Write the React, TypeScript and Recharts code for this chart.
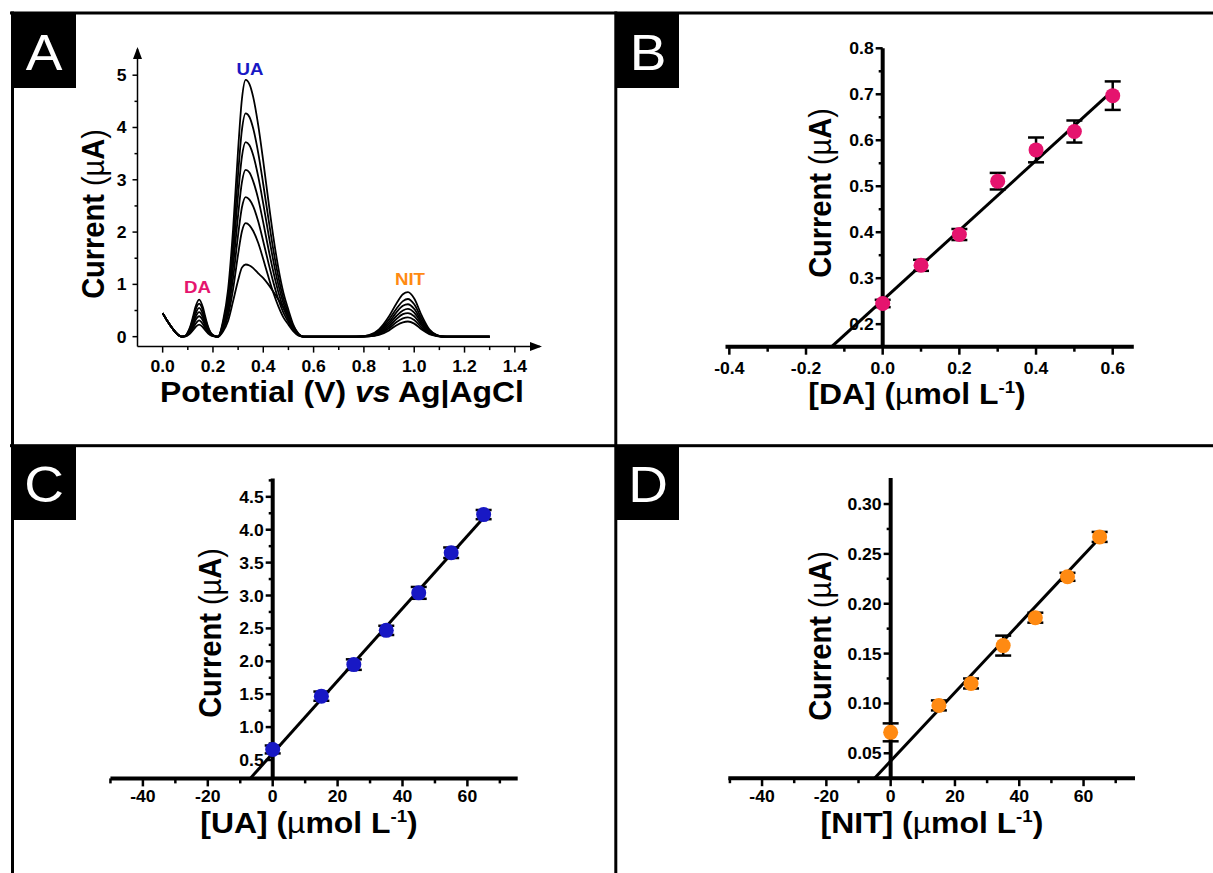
import React from 'react';
import {
  LineChart, Line, XAxis, YAxis, ReferenceDot, ReferenceLine,
  ComposedChart, Scatter, ErrorBar,
} from 'recharts';

const FONT = '"Liberation Sans", Arial, Helvetica, sans-serif';
const SX = 1.1;

// ---------------- Panel A data (DPV curves) ----------------
const startX = [0, 0.02, 0.04, 0.06, 0.075];
const startY = [0.45, 0.29, 0.15, 0.04, 0.0];
const daX = [0.09, 0.10, 0.11, 0.12, 0.13, 0.145, 0.16, 0.17, 0.18, 0.19, 0.20, 0.21];
const daCurves = [
  [0.005, 0.028, 0.064, 0.12, 0.18, 0.23, 0.18, 0.12, 0.064, 0.028, 0.010, 0.002],
  [0.006, 0.037, 0.087, 0.16, 0.24, 0.31, 0.24, 0.16, 0.087, 0.037, 0.014, 0.003],
  [0.008, 0.047, 0.11, 0.20, 0.31, 0.39, 0.31, 0.20, 0.11, 0.047, 0.018, 0.004],
  [0.009, 0.056, 0.13, 0.24, 0.37, 0.47, 0.37, 0.24, 0.13, 0.056, 0.021, 0.005],
  [0.011, 0.066, 0.15, 0.29, 0.43, 0.55, 0.43, 0.29, 0.15, 0.066, 0.025, 0.006],
  [0.013, 0.076, 0.18, 0.33, 0.50, 0.63, 0.50, 0.33, 0.18, 0.076, 0.028, 0.006],
  [0.014, 0.085, 0.20, 0.37, 0.56, 0.71, 0.56, 0.37, 0.20, 0.085, 0.032, 0.007],
];
const uaX = [0.22, 0.24, 0.26, 0.28, 0.30, 0.315, 0.33, 0.345, 0.36, 0.38, 0.40, 0.42, 0.44, 0.46, 0.48, 0.50, 0.52, 0.54, 0.56];
const uaCurves = [
  [0, 0.10, 0.30, 0.68, 1.08, 1.32, 1.38, 1.36, 1.31, 1.21, 1.12, 1.00, 0.86, 0.71, 0.55, 0.38, 0.20, 0.06, 0],
  [0, 0.13, 0.40, 0.91, 1.58, 2.01, 2.17, 2.13, 2.02, 1.79, 1.48, 1.15, 0.84, 0.58, 0.37, 0.23, 0.10, 0.02, 0],
  [0, 0.16, 0.49, 1.12, 1.95, 2.47, 2.67, 2.62, 2.49, 2.20, 1.82, 1.42, 1.04, 0.71, 0.46, 0.28, 0.12, 0.03, 0],
  [0, 0.19, 0.58, 1.34, 2.33, 2.95, 3.19, 3.14, 2.97, 2.63, 2.18, 1.69, 1.24, 0.85, 0.55, 0.33, 0.14, 0.03, 0],
  [0, 0.23, 0.68, 1.56, 2.72, 3.44, 3.72, 3.66, 3.47, 3.06, 2.54, 1.98, 1.45, 0.99, 0.64, 0.39, 0.17, 0.04, 0],
  [0, 0.26, 0.78, 1.79, 3.12, 3.95, 4.27, 4.20, 3.98, 3.51, 2.91, 2.27, 1.66, 1.14, 0.73, 0.44, 0.19, 0.04, 0],
  [0, 0.30, 0.90, 2.06, 3.58, 4.54, 4.91, 4.83, 4.58, 4.04, 3.35, 2.61, 1.91, 1.31, 0.84, 0.51, 0.22, 0.05, 0],
];
const flatX = [0.6, 0.7];
const flatY = [0, 0];
const nitX = [0.78, 0.82, 0.86, 0.90, 0.93, 0.955, 0.975, 1.0, 1.03, 1.06, 1.09, 1.11, 1.13];
const nitCurves = [
  [0, 0.005, 0.035, 0.12, 0.22, 0.275, 0.29, 0.25, 0.135, 0.05, 0.012, 0.001, 0],
  [0, 0.008, 0.05, 0.16, 0.28, 0.35, 0.37, 0.32, 0.17, 0.06, 0.015, 0.002, 0],
  [0.001, 0.012, 0.065, 0.20, 0.34, 0.43, 0.45, 0.39, 0.21, 0.075, 0.018, 0.002, 0],
  [0.001, 0.015, 0.08, 0.24, 0.40, 0.50, 0.53, 0.46, 0.25, 0.09, 0.02, 0.003, 0],
  [0.002, 0.02, 0.095, 0.28, 0.47, 0.59, 0.62, 0.53, 0.29, 0.10, 0.025, 0.003, 0],
  [0.003, 0.025, 0.115, 0.33, 0.54, 0.68, 0.72, 0.62, 0.34, 0.12, 0.03, 0.004, 0],
  [0.004, 0.03, 0.14, 0.39, 0.64, 0.81, 0.85, 0.73, 0.40, 0.14, 0.03, 0.004, 0],
];
const endX = [1.2, 1.3];
const endY = [0, 0];

const aXMajor = [0, 0.2, 0.4, 0.6, 0.8, 1.0, 1.2, 1.4];
const aXLabels = ['0.0', '0.2', '0.4', '0.6', '0.8', '1.0', '1.2', '1.4'];
const aXMinor = [0.1, 0.3, 0.5, 0.7, 0.9, 1.1, 1.3];
const aYMajor = [0, 1, 2, 3, 4, 5];
const aYLabels = ['0', '1', '2', '3', '4', '5'];
const aYMinor = [0.5, 1.5, 2.5, 3.5, 4.5];

// ---------------- Panel B (DA) ----------------
const daConc = [0, 0.1, 0.2, 0.3, 0.4, 0.5, 0.6];
const daCurr = [0.245, 0.328, 0.395, 0.511, 0.579, 0.619, 0.697];
const daErr = [0.008, 0.012, 0.012, 0.018, 0.027, 0.024, 0.031];
const daFitX = [-0.133, 0.6];
const daFitY = [0.151, 0.708];
const bXMajor = [-0.4, -0.2, 0, 0.2, 0.4, 0.6];
const bXLabels = ['-0.4', '-0.2', '0.0', '0.2', '0.4', '0.6'];
const bXMinor = [-0.3, -0.1, 0.1, 0.3, 0.5];
const bYMajor = [0.2, 0.3, 0.4, 0.5, 0.6, 0.7, 0.8];
const bYLabels = ['0.2', '0.3', '0.4', '0.5', '0.6', '0.7', '0.8'];
const bYMinor = [0.25, 0.35, 0.45, 0.55, 0.65, 0.75];

// ---------------- Panel C (UA) ----------------
const uaConc = [0, 15, 25, 35, 45, 55, 65];
const uaCurr = [0.66, 1.47, 1.95, 2.47, 3.04, 3.65, 4.23];
const uaErr = [0.06, 0.07, 0.08, 0.07, 0.09, 0.08, 0.07];
const uaFitX = [-6.9, 65];
const uaFitY = [0.22, 4.18];
const cYMajor = [0.5, 1.0, 1.5, 2.0, 2.5, 3.0, 3.5, 4.0, 4.5];
const cYLabels = ['0.5', '1.0', '1.5', '2.0', '2.5', '3.0', '3.5', '4.0', '4.5'];
const cYMinor = [0.75, 1.25, 1.75, 2.25, 2.75, 3.25, 3.75, 4.25, 4.75];

// ---------------- Panel D (NIT) ----------------
const nitConc = [0, 15, 25, 35, 45, 55, 65];
const nitCurr = [0.071, 0.098, 0.120, 0.158, 0.186, 0.227, 0.267];
const nitErr = [0.009, 0.005, 0.005, 0.010, 0.005, 0.004, 0.005];
const nitFitX = [-5, 65];
const nitFitY = [0.025, 0.266];
const dYMajor = [0.05, 0.10, 0.15, 0.20, 0.25, 0.30];
const dYLabels = ['0.05', '0.10', '0.15', '0.20', '0.25', '0.30'];
const dYMinor = [0.075, 0.125, 0.175, 0.225, 0.275];

const cdXMajor = [-40, -20, 0, 20, 40, 60];
const cdXLabels = ['-40', '-20', '0', '20', '40', '60'];
const cdXMinor = [-50, -30, -10, 10, 30, 50, 70];

const COL_DA = '#E5146E';
const COL_UA = '#1818C4';
const COL_NIT = '#FF8A12';

// ---------------- build tables ----------------
const allX = [...startX, ...daX, ...uaX, ...flatX, ...nitX, ...endX];
const curveKeys = daCurves.map((_, i) => `c${i}`);
const curveVals = daCurves.map((_, i) => [
  ...startY, ...daCurves[i], ...uaCurves[i], ...flatY, ...nitCurves[i], ...endY,
]);
const dpvRows = allX.map((v, j) => {
  const row: any = { v };
  curveKeys.forEach((k, i) => { row[k] = curveVals[i][j]; });
  return row;
});

const pts = (xs: number[], ys: number[], es?: number[]) =>
  xs.map((x, i) => ({ x, y: ys[i], e: es ? es[i] : 0 }));

// ---------------- helpers ----------------
function Txt(props: any) {
  const { x, y, size, weight = 'bold', anchor = 'middle', fill = '#000', rotate = false, children } = props;
  const t = `translate(${x},${y}) scale(${SX},1)` + (rotate ? ' rotate(-90)' : '');
  return (
    <text transform={t} textAnchor={anchor} fontSize={size} fontWeight={weight}
      fontFamily={FONT} fill={fill}>{children}</text>
  );
}

const near = (arr: number[], v: number) => arr.findIndex((m) => Math.abs(m - v) < 1e-6);

const makeXTick = (majors: number[], labels: string[], big: number, small: number, sw: number, dy: number, fs: number) =>
  (p: any) => {
    const i = near(majors, p.payload.value);
    return (
      <g>
        <line x1={p.x} y1={p.y} x2={p.x} y2={p.y + (i >= 0 ? big : small)} stroke="#000" strokeWidth={sw} />
        {i >= 0 && <Txt x={p.x} y={p.y + dy} size={fs}>{labels[i]}</Txt>}
      </g>
    );
  };

const makeYTickA = (majors: number[], labels: string[]) => (p: any) => {
  const i = near(majors, p.payload.value);
  return (
    <g>
      <line x1={p.x} y1={p.y} x2={p.x - (i >= 0 ? 5 : 3)} y2={p.y} stroke="#000" strokeWidth={1.5} />
      {i >= 0 && <Txt x={p.x - 11} y={p.y + 6} size={16} anchor="end">{labels[i]}</Txt>}
    </g>
  );
};

const yTickShape = (label: string | null) => (p: any) => (
  <g>
    <line x1={p.cx} y1={p.cy} x2={p.cx - (label ? 7 : 4)} y2={p.cy} stroke="#000" strokeWidth={2.5} />
    {label && <Txt x={p.cx - 9} y={p.cy + 6} size={16} anchor="end">{label}</Txt>}
  </g>
);

const emptyShape = () => <g />;
const dotShape = (color: string) => (p: any) => <circle cx={p.cx} cy={p.cy} r={7.5} fill={color} />;

const arrowRight = (p: any) => (
  <path d={`M ${p.cx + 2} ${p.cy} L ${p.cx - 10} ${p.cy - 4.5} L ${p.cx - 10} ${p.cy + 4.5} Z`} fill="#000" />
);
const arrowUp = (p: any) => (
  <path d={`M ${p.cx} ${p.cy - 2} L ${p.cx - 4.5} ${p.cy + 10} L ${p.cx + 4.5} ${p.cy + 10} Z`} fill="#000" />
);
const peakLabel = (text: string, color: string) => (p: any) => (
  <Txt x={p.cx} y={p.cy} size={17} fill={color}>{text}</Txt>
);

// ---------------- calibration panel ----------------
function CalPanel(props: any) {
  const { width, height, margin, xDomain, yDomain, xMajor, xLabels, xMinor, yMajor, yLabels, yMinor,
    data, fit, color, labelDy } = props;
  return (
    <ComposedChart width={width} height={height} margin={margin}>
      <XAxis type="number" dataKey="x" domain={xDomain} ticks={[...xMajor, ...xMinor]}
        interval={0} allowDataOverflow tickSize={0} tickMargin={0} height={30}
        axisLine={{ stroke: '#000', strokeWidth: 4 }} tickLine={false}
        tick={makeXTick(xMajor, xLabels, 8, 5, 2.5, labelDy, 16)} />
      <YAxis type="number" dataKey="y" domain={yDomain} hide width={0} allowDataOverflow />
      <ReferenceLine x={0} stroke="#000" strokeWidth={4} ifOverflow="visible" />
      {yMajor.map((v: number, i: number) => (
        <ReferenceDot key={`ym${i}`} x={0} y={v} r={1} shape={yTickShape(yLabels[i])} ifOverflow="visible" />
      ))}
      {yMinor.map((v: number, i: number) => (
        <ReferenceDot key={`yn${i}`} x={0} y={v} r={1} shape={yTickShape(null)} ifOverflow="visible" />
      ))}
      <Scatter data={fit} shape={emptyShape} line={{ stroke: '#000', strokeWidth: 3 }} lineType="joint"
        isAnimationActive={false} />
      <Scatter data={data} shape={dotShape(color)} isAnimationActive={false} />
      <Scatter data={data} shape={emptyShape} isAnimationActive={false}>
        <ErrorBar dataKey="e" direction="y" width={8} strokeWidth={2.5} stroke="#000" isAnimationActive={false} />
      </Scatter>
    </ComposedChart>
  );
}

function Frame() {
  return (
    <svg width={1213} height={873} style={{ position: 'absolute', left: 0, top: 0 }}>
      <rect x={10} y={11.5} width={1203} height={3} fill="#000" />
      <rect x={10} y={444.2} width={1203} height={3} fill="#000" />
      <rect x={11} y={11.5} width={3} height={861.5} fill="#000" />
      <rect x={614.3} y={11.5} width={3} height={861.5} fill="#000" />
      <rect x={12} y={14} width={64} height={74} fill="#000" />
      <rect x={617} y={14} width={62} height={74} fill="#000" />
      <rect x={12} y={447} width={64} height={73} fill="#000" />
      <rect x={617} y={447} width={62} height={73} fill="#000" />
      <Txt x={44} y={70} size={50} weight="normal" fill="#fff">A</Txt>
      <Txt x={648} y={70} size={50} weight="normal" fill="#fff">B</Txt>
      <Txt x={44} y={502} size={50} weight="normal" fill="#fff">C</Txt>
      <Txt x={648} y={502} size={50} weight="normal" fill="#fff">D</Txt>

      {/* y titles */}
      {[[104, 214], [831, 193], [221, 633], [831, 636]].map(([x, y], i) => (
        <Txt key={`yt${i}`} x={x} y={y} size={29} rotate>
          <tspan fontWeight="bold">Current </tspan>
          <tspan fontWeight="normal">(µ</tspan>
          <tspan fontWeight="bold">A</tspan>
          <tspan fontWeight="normal">)</tspan>
        </Txt>
      ))}

      {/* x titles */}
      <Txt x={342} y={402} size={29}>
        <tspan>Potential (V) </tspan><tspan fontStyle="italic">vs</tspan><tspan> Ag|AgCl</tspan>
      </Txt>
      {[[917, 404, 'DA'], [309, 833, 'UA'], [932, 833, 'NIT']].map(([x, y, n], i) => (
        <Txt key={`xt${i}`} x={x} y={y} size={29}>
          <tspan>[{n}] (</tspan><tspan fontWeight="normal">µ</tspan><tspan>mol L</tspan>
          <tspan dy={-11} fontSize={17}>-1</tspan><tspan dy={11}>)</tspan>
        </Txt>
      ))}
    </svg>
  );
}

export default function App() {
  return (
    <div style={{ position: 'absolute', left: 0, top: 0, width: 1213, height: 873, background: '#fff', overflow: 'hidden' }}>
      <Frame />
      <div style={{ position: 'absolute', left: 0, top: 0 }}>
        <LineChart width={615} height={445} data={dpvRows}
          margin={{ top: 49.05, right: 75, left: 77.5, bottom: 68.4 }}>
          <XAxis type="number" dataKey="v" domain={[-0.1, 1.5]} ticks={[...aXMajor, ...aXMinor]}
            interval={0} allowDataOverflow tickSize={0} tickMargin={0} height={30}
            axisLine={{ stroke: '#000', strokeWidth: 1.5 }} tickLine={false}
            tick={makeXTick(aXMajor, aXLabels, 6, 3.5, 1.5, 25, 16)} />
          <YAxis type="number" domain={[-0.19, 5.5]} ticks={[...aYMajor, ...aYMinor]} interval={0}
            allowDataOverflow tickSize={0} tickMargin={0} width={60}
            axisLine={{ stroke: '#000', strokeWidth: 1.5 }} tickLine={false}
            tick={makeYTickA(aYMajor, aYLabels)} />
          {curveKeys.map((k) => (
            <Line key={k} dataKey={k} type="monotone" stroke="#000" strokeWidth={1.8}
              dot={false} activeDot={false} isAnimationActive={false} />
          ))}
          <ReferenceDot x={1.5} y={-0.19} r={1} shape={arrowRight} ifOverflow="visible" />
          <ReferenceDot x={-0.1} y={5.5} r={1} shape={arrowUp} ifOverflow="visible" />
          <ReferenceDot x={0.347} y={5.0} r={1} shape={peakLabel('UA', COL_UA)} ifOverflow="visible" />
          <ReferenceDot x={0.138} y={0.83} r={1} shape={peakLabel('DA', COL_DA)} ifOverflow="visible" />
          <ReferenceDot x={0.983} y={0.99} r={1} shape={peakLabel('NIT', COL_NIT)} ifOverflow="visible" />
        </LineChart>
      </div>
      <div style={{ position: 'absolute', left: 615, top: 0 }}>
        <CalPanel width={598} height={445} margin={{ top: 48.3, right: 79.2, left: 110.5, bottom: 68.3 }}
          xDomain={[-0.41, 0.655]} yDomain={[0.151, 0.8]} labelDy={27}
          xMajor={bXMajor} xLabels={bXLabels} xMinor={bXMinor}
          yMajor={bYMajor} yLabels={bYLabels} yMinor={bYMinor}
          data={pts(daConc, daCurr, daErr)} fit={pts(daFitX, daFitY)} color={COL_DA} />
      </div>
      <div style={{ position: 'absolute', left: 0, top: 445 }}>
        <CalPanel width={615} height={428} margin={{ top: 33.4, right: 97.3, left: 110.45, bottom: 64.6 }}
          xDomain={[-50, 75.5]} yDomain={[0.22, 4.78]} labelDy={24}
          xMajor={cdXMajor} xLabels={cdXLabels} xMinor={cdXMinor}
          yMajor={cYMajor} yLabels={cYLabels} yMinor={cYMinor}
          data={pts(uaConc, uaCurr, uaErr)} fit={pts(uaFitX, uaFitY)} color={COL_UA} />
      </div>
      <div style={{ position: 'absolute', left: 615, top: 445 }}>
        <CalPanel width={598} height={428} margin={{ top: 33.1, right: 78, left: 113.3, bottom: 64.8 }}
          xDomain={[-50.5, 76]} yDomain={[0.025, 0.326]} labelDy={24}
          xMajor={cdXMajor} xLabels={cdXLabels} xMinor={cdXMinor}
          yMajor={dYMajor} yLabels={dYLabels} yMinor={dYMinor}
          data={pts(nitConc, nitCurr, nitErr)} fit={pts(nitFitX, nitFitY)} color={COL_NIT} />
      </div>
    </div>
  );
}
